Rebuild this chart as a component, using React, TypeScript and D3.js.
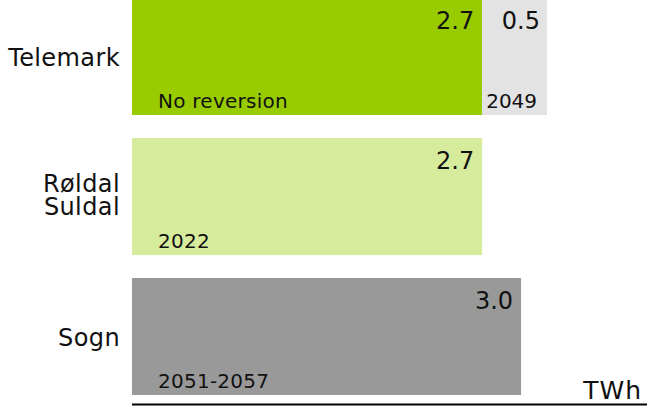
import React from "react";
import * as d3 from "d3";

const categories = ["Telemark", "Røldal\nSuldal", "Sogn"];
const mainValues = [2.7, 2.7, 3.0];
const extraValues = [0.5, 0, 0];
const mainNotes = ["No reversion", "2022", "2051-2057"];
const extraNotes = ["2049", "", ""];
const mainColors = ["#99cc00", "#d6eb9b", "#999999"];
const extraColor = "#e3e3e3";
const unitLabel = "TWh";

const W = 647;
const H = 409;
const FONT = "'DejaVu Sans', Verdana, sans-serif";

export default function App() {
  const x = d3.scaleLinear().domain([0, 3.2]).range([132, 547]);
  const y = d3
    .scaleBand<string>()
    .domain(categories)
    .range([-2, 395])
    .paddingInner(23 / 140)
    .paddingOuter(0);
  const bw = y.bandwidth();

  return (
    <svg
      width={W}
      height={H}
      style={{ position: "absolute", left: 0, top: 0, background: "#fff" }}
      fontFamily={FONT}
    >
      {categories.map((c, i) => {
        const top = y(c)!;
        const bottom = top + bw;
        const x0 = x(0);
        const x1 = x(mainValues[i]);
        const x2 = x(mainValues[i] + extraValues[i]);
        const lines = c.split("\n");
        const center = top + bw / 2;
        const lh = 23.3;
        const firstBase = center + 9 - ((lines.length - 1) * lh) / 2 - (lines.length > 1 ? 2 : 0);
        return (
          <g key={c}>
            <rect x={x0} y={top} width={x1 - x0} height={bw} fill={mainColors[i]} />
            {extraValues[i] > 0 && (
              <rect x={x1} y={top} width={x2 - x1} height={bw} fill={extraColor} />
            )}
            <text
              x={x1 - 8}
              y={top + 31}
              textAnchor="end"
              fontSize={24}
              fill="#111"
            >
              {d3.format(".1f")(mainValues[i])}
            </text>
            {extraValues[i] > 0 && (
              <text x={x2 - 7} y={top + 31} textAnchor="end" fontSize={24} fill="#111">
                {d3.format(".1f")(extraValues[i])}
              </text>
            )}
            <text x={x0 + 26} y={bottom - 7.5} fontSize={20} letterSpacing={0.25} fill="#111">
              {mainNotes[i]}
            </text>
            {extraNotes[i] && (
              <text x={x1 + 4} y={bottom - 7} fontSize={20} fill="#111">
                {extraNotes[i]}
              </text>
            )}
            <text textAnchor="end" fontSize={24} letterSpacing={0.4} fill="#111">
              {lines.map((l, k) => (
                <tspan key={k} x={120} y={firstBase + k * lh}>
                  {l}
                </tspan>
              ))}
            </text>
          </g>
        );
      })}
      <line x1={x(0)} x2={W} y1={404.5} y2={404.5} stroke="#000" strokeWidth={2} />
      <text x={642} y={399} textAnchor="end" fontSize={25} letterSpacing={1} fill="#111">
        {unitLabel}
      </text>
    </svg>
  );
}
